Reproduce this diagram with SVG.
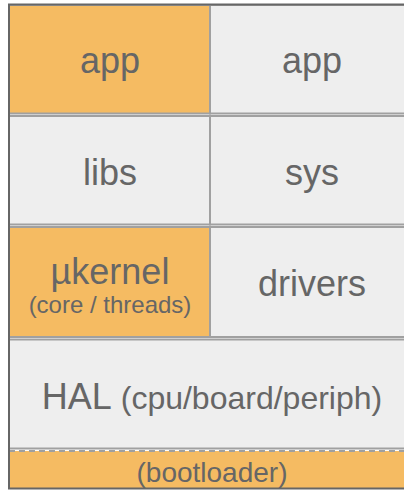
<svg xmlns="http://www.w3.org/2000/svg" width="404" height="490" viewBox="0 0 404 490">
<style>
.cell{stroke:#a0a0a0;stroke-width:2}
.org{fill:#f5bb62}
.gry{fill:#eeeeee}
text{font-family:"Liberation Sans",Arial,sans-serif;fill:#666666;text-anchor:middle}
.big{font-size:36px}
.sub{font-size:24px}
.mid{font-size:32px}
.boot{font-size:28px}
</style>
<rect x="0" y="0" width="404" height="490" fill="#ffffff"/>
<g id="app-left"><rect class="cell org" x="9" y="5" width="201" height="108.5"/><text class="big" x="110" y="73">app</text></g>
<g id="app-right"><rect class="cell gry" x="210" y="5" width="205" height="108.5"/><text class="big" x="312" y="73">app</text></g>
<g id="libs"><rect class="cell gry" x="9" y="116" width="201" height="108.5"/><text class="big" x="110" y="185">libs</text></g>
<g id="sys"><rect class="cell gry" x="210" y="116" width="205" height="108.5"/><text class="big" x="312" y="185">sys</text></g>
<g id="ukernel"><rect class="cell org" x="9" y="227" width="201" height="110"/><text class="big" x="110" y="284">µkernel</text><text class="sub" x="110" y="313">(core / threads)</text></g>
<g id="drivers"><rect class="cell gry" x="210" y="227" width="205" height="110"/><text class="big" x="312" y="296">drivers</text></g>
<g id="hal"><rect class="cell gry" x="9" y="339.5" width="406" height="109"/><text x="212" y="409"><tspan class="big">HAL</tspan><tspan class="mid"> (cpu/board/periph)</tspan></text></g>
<g id="bootloader"><rect class="org" x="9" y="451" width="406" height="37"/><line x1="9" y1="451" x2="415" y2="451" stroke="#a0a0a0" stroke-width="2" stroke-dasharray="6,4"/><text class="boot" x="212" y="482">(bootloader)</text></g>
<g id="border"><polyline points="415,4.5 9,4.5 9,488.5 415,488.5" fill="none" stroke="#666666" stroke-width="2"/></g>
</svg>
